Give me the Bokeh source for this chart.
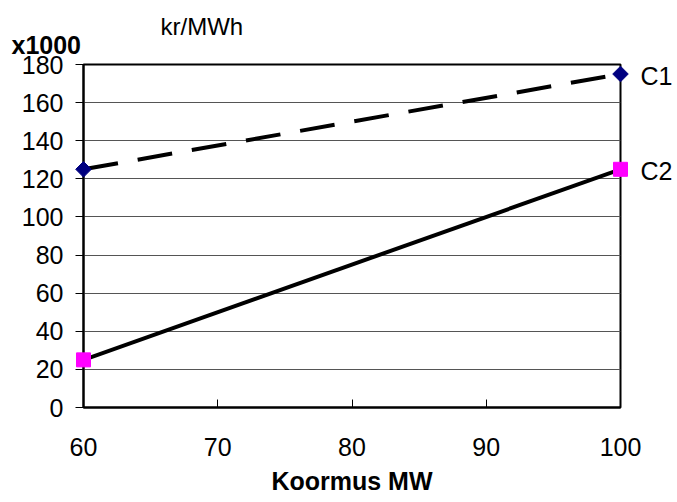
import math
from bokeh.plotting import figure
from bokeh.models import Range1d, FixedTicker, ColumnDataSource
from bokeh.core.properties import value
from bokeh.embed import file_html
from bokeh.resources import INLINE

# data
load_mw = [60, 100]
c1_values = [125, 175]
c2_values = [25, 125]
series_names = ["C1", "C2"]
x_ticks = [60, 70, 80, 90, 100]
y_ticks = [0, 20, 40, 60, 80, 100, 120, 140, 160, 180]
x_title = "Koormus MW"
unit_text = "kr/MWh"
scale_text = "x1000"

FONT = "Liberation Sans"
W, H = 677, 502
FL, FR, FT, FB = 83, 620, 64, 407

p = figure(width=W, height=H, output_backend="svg", toolbar_location=None,
           x_range=Range1d(60, 100), y_range=Range1d(0, 180),
           min_border_left=FL, min_border_right=W - FR,
           min_border_top=FT, min_border_bottom=H - FB)
p.background_fill_color = "white"
p.border_fill_color = "white"
p.outline_line_color = "black"
p.outline_line_width = 2

p.xgrid.visible = False
p.ygrid.grid_line_color = "#555555"
p.ygrid.grid_line_width = 1
p.ygrid.ticker = FixedTicker(ticks=y_ticks)

p.xaxis.ticker = FixedTicker(ticks=x_ticks)
p.yaxis.ticker = FixedTicker(ticks=y_ticks)
for ax in (p.xaxis[0], p.yaxis[0]):
    ax.axis_line_color = "black"
    ax.axis_line_width = 2
    ax.major_tick_line_color = "black"
    ax.major_tick_line_width = 1
    ax.minor_tick_line_color = None
    ax.major_label_text_font = FONT
    ax.major_label_text_font_size = "25px"
    ax.major_label_text_color = "black"
p.xaxis.major_tick_in = 8
p.xaxis.major_tick_out = 0
p.xaxis.major_label_standoff = 30
p.yaxis.major_tick_in = 0
p.yaxis.major_tick_out = 8
p.yaxis.major_label_standoff = 12

p.xaxis.axis_label = x_title
p.xaxis.axis_label_text_font = FONT
p.xaxis.axis_label_text_font_style = "bold"
p.xaxis.axis_label_text_font_size = "25px"
p.xaxis.axis_label_text_color = "black"
p.xaxis.axis_label_standoff = 8


def dx(px):
    return 60 + (px - FL) / (FR - FL) * 40


def dy(py):
    return (FB - py) / (FB - FT) * 180


# lines
p.line(load_mw, c1_values, line_color="black", line_width=4, line_dash="35 20")
p.line(load_mw, c2_values, line_color="black", line_width=4)
p.scatter(load_mw, c1_values, marker="square", angle=math.pi / 4, size=11,
          fill_color="#000080", line_color="#000080", level="overlay")
p.scatter(load_mw, c2_values, marker="square", size=14, fill_color="#FF00FF",
          line_color="#FF00FF", level="overlay")

src = ColumnDataSource(dict(x=[load_mw[-1], load_mw[-1]],
                            y=[c1_values[-1], c2_values[-1]],
                            t=series_names))
p.text(x="x", y="y", text="t", source=src, x_offset=20, y_offset=2,
       text_font=value(FONT), text_font_size="25px", text_color="black",
       text_baseline="middle", text_align="left", level="overlay")

# texts above the plot area
p.text(x=[dx(11)], y=[dy(44)], text=[scale_text], text_font=value(FONT),
       text_font_style="bold", text_font_size="25px", text_color="black",
       text_baseline="alphabetic", text_align="left", level="overlay")
p.text(x=[dx(160)], y=[dy(26)], text=[unit_text], text_font=value(FONT),
       text_font_size="24px", text_color="black",
       text_baseline="alphabetic", text_align="left", level="overlay")

open("out.html", "w").write(file_html(p, INLINE))
